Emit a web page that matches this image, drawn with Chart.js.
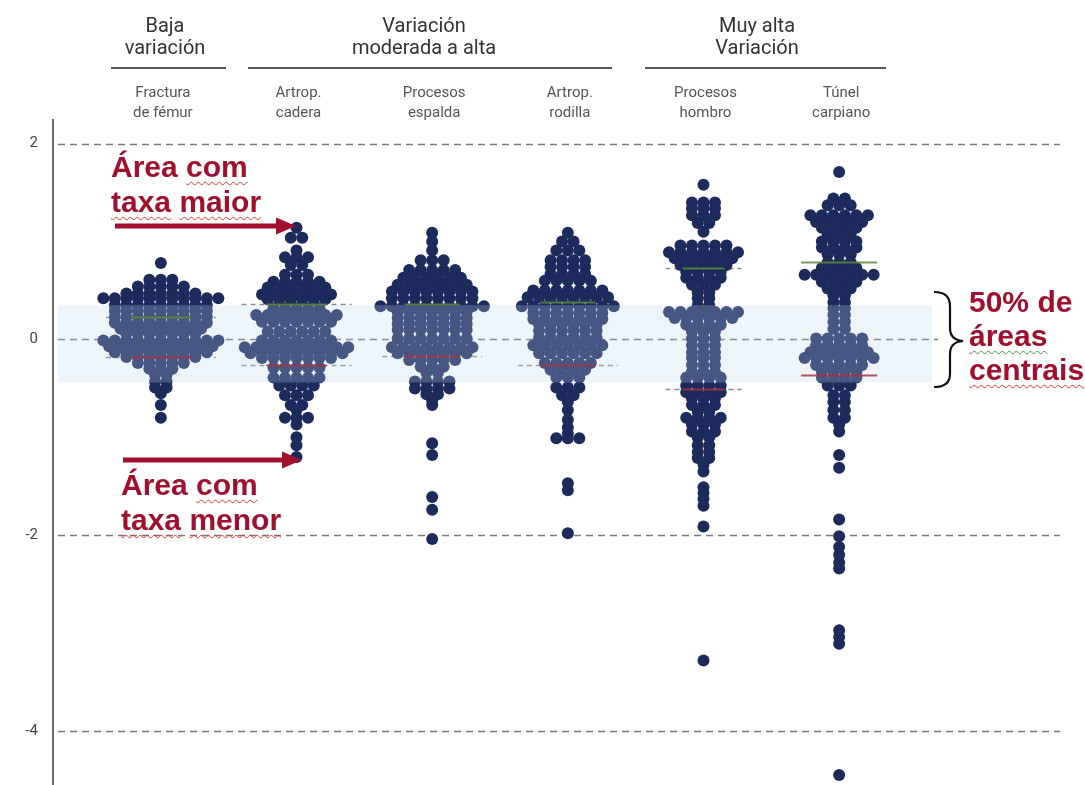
<!DOCTYPE html>
<html>
<head>
<meta charset="utf-8">
<script src="https://cdn.jsdelivr.net/npm/chart.js@4.4.0/dist/chart.umd.min.js"></script>
<style>
  body { margin: 0; background: #fff; }
  #wrap { position: relative; width: 1085px; height: 785px; overflow: hidden; }
  #chart1 { position: absolute; left: 0; top: 0; }
  .note {
    position: absolute;
    font: bold 30px "Liberation Sans", Arial, sans-serif;
    color: #a0102e;
    line-height: 35px;
    white-space: nowrap;
  }
  .sq {
    text-decoration: underline wavy #e2382e;
    text-decoration-thickness: 1px;
    text-underline-offset: 4px;
  }
  .sq.green { text-decoration-color: #3f9f3f; }
</style>
</head>
<body>
<div id="wrap">
  <canvas id="chart1" width="1085" height="785"></canvas>
  <div class="note" style="left:111px; top:149px;">Área <span class="sq">com</span><br><span class="sq">taxa</span> <span class="sq">maior</span></div>
  <div class="note" style="left:121px; top:467px;">Área <span class="sq">com</span><br><span class="sq">taxa</span> <span class="sq">menor</span></div>
  <div class="note" style="left:969px; top:285px; line-height:34px;">50% de<br><span class="sq green">áreas</span><br><span class="sq">centrais</span></div>
</div>
<script>
const categories = [
  ['Fractura', 'de fémur'],
  ['Artrop.', 'cadera'],
  ['Procesos', 'espalda'],
  ['Artrop.', 'rodilla'],
  ['Procesos', 'hombro'],
  ['Túnel', 'carpiano']
];
const groups = [
  ['Baja', 'variación'],
  ['Variación', 'moderada a alta'],
  ['Muy alta', 'Variación']
];
const yTicks = [2, 0, -2, -4];

// each row: [standardised rate, number of areas at that rate]
const fracturaRows = [
  [0.78, 1], [0.61, 3], [0.54, 5], [0.47, 7], [0.42, 11], [0.35, 9], [0.29, 9],
  [0.23, 9], [0.17, 9], [0.11, 8], [0.06, 7], [-0.01, 11], [-0.07, 10], [-0.13, 9],
  [-0.18, 7], [-0.24, 5], [-0.30, 3], [-0.36, 2], [-0.43, 2], [-0.49, 2], [-0.55, 1],
  [-0.67, 1], [-0.80, 1]
];
const caderaRows = [
  [1.14, 1], [1.04, 2], [0.91, 1], [0.84, 3], [0.76, 2], [0.66, 3], [0.59, 5],
  [0.53, 6], [0.46, 7], [0.41, 6], [0.32, 5], [0.25, 8], [0.18, 7], [0.08, 6],
  [-0.01, 7], [-0.08, 10], [-0.14, 9], [-0.19, 7], [-0.29, 5], [-0.39, 5], [-0.47, 4],
  [-0.57, 3], [-0.67, 2], [-0.72, 1], [-0.80, 3], [-0.87, 1], [-1.00, 1], [-1.08, 1],
  [-1.20, 1]
];
const espaldaRows = [
  [1.09, 1], [1.00, 1], [0.91, 1], [0.81, 3], [0.71, 5], [0.63, 6], [0.56, 7],
  [0.49, 8], [0.42, 8], [0.34, 10], [0.28, 7], [0.22, 7], [0.16, 7], [0.10, 7],
  [0.01, 7], [-0.08, 8], [-0.14, 7], [-0.21, 5], [-0.28, 3], [-0.34, 2], [-0.43, 4],
  [-0.50, 4], [-0.56, 2], [-0.62, 1], [-0.67, 1], [-1.06, 1], [-1.18, 1], [-1.61, 1],
  [-1.74, 1], [-2.04, 1]
];
const rodillaRows = [
  [1.09, 1], [1.00, 2], [0.91, 3], [0.81, 4], [0.74, 4], [0.67, 4], [0.60, 5],
  [0.50, 7], [0.43, 8], [0.34, 9], [0.27, 7], [0.21, 7], [0.15, 6], [0.09, 6],
  [0.02, 6], [-0.06, 7], [-0.14, 6], [-0.24, 5], [-0.31, 4], [-0.39, 3], [-0.49, 3],
  [-0.57, 2], [-0.64, 1], [-0.72, 1], [-0.82, 1], [-0.90, 1], [-0.96, 1], [-1.01, 3],
  [-1.47, 1], [-1.54, 1], [-1.98, 1]
];
const hombroRows = [
  [1.58, 1], [1.40, 3], [1.34, 3], [1.27, 3], [1.19, 2], [1.10, 1], [0.96, 5],
  [0.89, 7], [0.83, 6], [0.76, 5], [0.69, 4], [0.63, 4], [0.56, 3], [0.48, 2],
  [0.42, 2], [0.35, 2], [0.28, 7], [0.22, 6], [0.15, 4], [0.08, 3], [0.01, 3],
  [-0.06, 3], [-0.13, 3], [-0.19, 3], [-0.26, 3], [-0.33, 3], [-0.39, 4], [-0.47, 4],
  [-0.54, 4], [-0.60, 3], [-0.67, 3], [-0.74, 2], [-0.80, 4], [-0.87, 3], [-0.94, 3],
  [-1.00, 2], [-1.08, 2], [-1.15, 2], [-1.21, 2], [-1.28, 1], [-1.35, 1], [-1.51, 1],
  [-1.57, 1], [-1.63, 1], [-1.70, 1], [-1.91, 1], [-3.28, 1]
];
const tunelRows = [
  [1.71, 1], [1.44, 2], [1.37, 3], [1.27, 6], [1.20, 5], [1.14, 4], [1.07, 3],
  [1.00, 4], [0.94, 4], [0.87, 3], [0.79, 3], [0.73, 4], [0.66, 7], [0.59, 4],
  [0.52, 3], [0.45, 2], [0.38, 2], [0.32, 2], [0.25, 2], [0.18, 2], [0.11, 2],
  [0.01, 5], [-0.06, 5], [-0.13, 6], [-0.19, 7], [-0.26, 5], [-0.33, 4], [-0.39, 4],
  [-0.47, 3], [-0.57, 2], [-0.64, 2], [-0.72, 2], [-0.80, 2], [-0.87, 1], [-0.94, 1],
  [-1.18, 1], [-1.31, 1], [-1.84, 1], [-2.01, 1], [-2.12, 1], [-2.20, 1], [-2.28, 1],
  [-2.34, 1], [-2.97, 1], [-3.04, 1], [-3.11, 1], [-4.45, 1]
];
const upperQuartile = [0.23, 0.36, 0.36, 0.38, 0.73, 0.79];
const lowerQuartile = [-0.18, -0.26, -0.17, -0.26, -0.51, -0.36];
const centralBand = [0.35, -0.44];

const allRows = [fracturaRows, caderaRows, espaldaRows, rodillaRows, hombroRows, tunelRows];

const X_MIN = -0.795, X_MAX = 6.628, PLOT_W = 1007;
const DOT_GAP = 11.5 * (X_MAX - X_MIN) / PLOT_W;
const DOT = '#1d2a5c';
const RED = '#a0102e';

// spread the areas sharing a rate sideways around the category centre
function swarm(rows, idx) {
  const pts = [];
  rows.forEach(([v, n]) => {
    for (let k = 0; k < n; k++) {
      pts.push({ x: idx + (k - (n - 1) / 2) * DOT_GAP, y: v });
    }
  });
  return pts;
}

const quartileHalfWidth = [55, 55, 50, 50, 38, 38];

const decor = {
  id: 'decor',
  beforeDatasetsDraw(chart) {
    const { ctx, chartArea, scales: { x, y } } = chart;
    ctx.save();
    ctx.strokeStyle = '#7a7a7a';
    ctx.lineWidth = 1.5;
    ctx.setLineDash([7, 5]);
    yTicks.forEach(t => {
      const py = Math.round(y.getPixelForValue(t)) + 0.5;
      const right = t === 0 ? 938 : chartArea.right;
      ctx.beginPath();
      ctx.moveTo(chartArea.left + 5, py);
      ctx.lineTo(right, py);
      ctx.stroke();
    });
    // quartile markers behind the dots
    ctx.strokeStyle = '#8c8c8c';
    ctx.setLineDash([5, 4]);
    categories.forEach((c, i) => {
      if (i === 5) return;
      const cx = x.getPixelForValue(i), hw = quartileHalfWidth[i];
      [upperQuartile[i], lowerQuartile[i]].forEach(q => {
        const py = Math.round(y.getPixelForValue(q)) + 0.5;
        ctx.beginPath();
        ctx.moveTo(cx - hw, py);
        ctx.lineTo(cx + hw, py);
        ctx.stroke();
      });
    });
    ctx.restore();
  },
  afterDatasetsDraw(chart) {
    const { ctx, chartArea, scales: { x, y } } = chart;
    ctx.save();
    // shaded band of the central 50% of areas
    const top = y.getPixelForValue(centralBand[0]);
    const bot = y.getPixelForValue(centralBand[1]);
    ctx.fillStyle = 'rgba(185, 215, 238, 0.26)';
    ctx.fillRect(chartArea.left + 5, top, 932 - chartArea.left - 5, bot - top);

    ctx.lineWidth = 2;
    categories.forEach((c, i) => {
      const cx = x.getPixelForValue(i);
      const hw = i === 5 ? quartileHalfWidth[i] : quartileHalfWidth[i] * 0.55;
      [[upperQuartile[i], 'rgba(92, 140, 60, 0.85)'], [lowerQuartile[i], 'rgba(170, 50, 70, 0.85)']].forEach(([q, col]) => {
        const py = Math.round(y.getPixelForValue(q)) + 0.5;
        ctx.strokeStyle = col;
        ctx.beginPath();
        ctx.moveTo(cx - hw, py);
        ctx.lineTo(cx + hw, py);
        ctx.stroke();
      });
    });
    ctx.restore();
  },
  afterDraw(chart) {
    const { ctx, scales: { x } } = chart;
    ctx.save();
    ctx.textAlign = 'center';
    ctx.textBaseline = 'alphabetic';

    // group headings with rules
    const groupCentre = [165, 424, 757];
    const groupRule = [[111, 226], [248, 612], [645, 886]];
    ctx.font = '20px Roboto';
    ctx.fillStyle = '#333';
    groups.forEach((g, i) => {
      ctx.fillText(g[0], groupCentre[i], 32);
      ctx.fillText(g[1], groupCentre[i], 54);
    });
    ctx.strokeStyle = '#555';
    ctx.lineWidth = 2;
    groupRule.forEach(([a, b]) => {
      ctx.beginPath();
      ctx.moveTo(a, 68);
      ctx.lineTo(b, 68);
      ctx.stroke();
    });

    // category names
    ctx.font = '15px Roboto';
    ctx.fillStyle = '#555';
    categories.forEach((c, i) => {
      const cx = x.getPixelForValue(i) + 2;
      ctx.fillText(c[0], cx, 97);
      ctx.fillText(c[1], cx, 117);
    });

    // arrows pointing at the extreme areas
    const arrow = (x0, x1, yy) => {
      ctx.fillStyle = RED;
      ctx.fillRect(x0, yy - 2.5, x1 - x0 - 17, 5);
      ctx.beginPath();
      ctx.moveTo(x1, yy);
      ctx.lineTo(x1 - 20, yy - 8.5);
      ctx.lineTo(x1 - 20, yy + 8.5);
      ctx.closePath();
      ctx.fill();
    };
    arrow(115, 296, 226);
    arrow(123, 302, 460);

    // brace next to the central band
    ctx.strokeStyle = '#111';
    ctx.lineWidth = 2.2;
    ctx.beginPath();
    ctx.moveTo(934, 292);
    ctx.quadraticCurveTo(950, 292, 950, 306);
    ctx.lineTo(950, 328);
    ctx.quadraticCurveTo(950, 340, 963, 341);
    ctx.quadraticCurveTo(950, 342, 950, 354);
    ctx.lineTo(950, 374);
    ctx.quadraticCurveTo(950, 387, 934, 387);
    ctx.stroke();
    ctx.restore();
  }
};

Chart.defaults.font.family = 'Roboto';

new Chart(document.getElementById('chart1'), {
  type: 'scatter',
  data: {
    datasets: allRows.map((rows, i) => ({
      label: categories[i].join(' '),
      data: swarm(rows, i),
      backgroundColor: DOT,
      borderWidth: 0,
      pointRadius: 6,
      pointHoverRadius: 6
    }))
  },
  options: {
    responsive: false,
    animation: false,
    devicePixelRatio: 1,
    layout: { autoPadding: false, padding: { top: 120, right: 25, left: 0, bottom: 0 } },
    plugins: { legend: { display: false }, tooltip: { enabled: false } },
    scales: {
      x: { type: 'linear', display: false, min: X_MIN, max: X_MAX },
      y: {
        min: -4.552,
        max: 2.242,
        afterBuildTicks: s => { s.ticks = yTicks.map(v => ({ value: v })); },
        afterFit: s => {
          s.width = 53;
          s.paddingTop = 0;
          s.paddingBottom = 0;
        },
        grid: { display: false, drawTicks: false },
        border: { display: true, color: '#6b6b6b', width: 2 },
        ticks: { padding: 15, color: '#444', font: { size: 15 } }
      }
    }
  },
  plugins: [decor]
});
</script>
</body>
</html>
